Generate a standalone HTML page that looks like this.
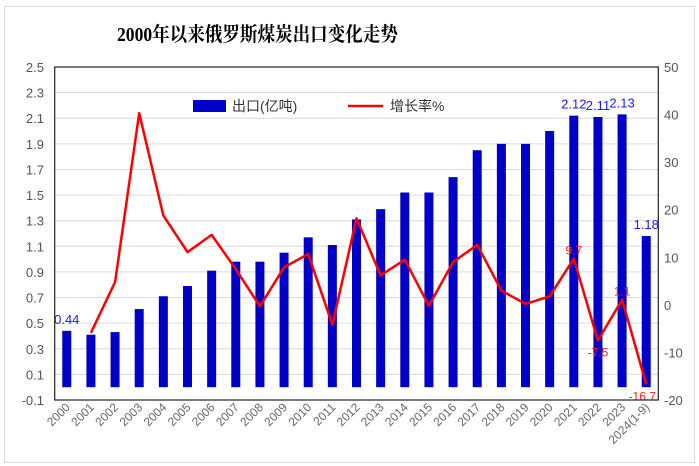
<!DOCTYPE html>
<html><head><meta charset="utf-8"><style>
body{margin:0;background:#fff;}
svg{display:block;font-family:"Liberation Sans","Noto Sans CJK SC",sans-serif;}
</style></head><body>
<svg id="c" width="699" height="466" viewBox="0 0 699 466">
<rect x="4.5" y="6.5" width="690" height="456" fill="#fff" stroke="#d9d9d9"/>
<text x="117" y="41" font-size="20" font-weight="bold" textLength="281" lengthAdjust="spacingAndGlyphs" font-family="'Liberation Serif','Noto Serif CJK SC',serif">2000年以来俄罗斯煤炭出口变化走势</text>
<g id="grid"></g><g id="bars"></g><g id="line"></g><g id="labels"></g>
<rect x="54.7" y="67" width="603.6" height="333" fill="none" stroke="#222" stroke-width="1.2"/>
<g>
<rect x="193" y="100" width="33" height="12" fill="#0000c8"/>
<text x="232" y="111" font-size="14" fill="#333">出口(亿吨)</text>
<line x1="348" y1="106" x2="383" y2="106" stroke="#f00" stroke-width="2.5"/>
<text x="390" y="111" font-size="14" fill="#333">增长率%</text>
</g>
</svg>
<script>
const categories=["2000","2001","2002","2003","2004","2005","2006","2007","2008","2009","2010","2011","2012","2013","2014","2015","2016","2017","2018","2019","2020","2021","2022","2023","2024(1-9)"];
const exportsVals=[0.44,0.41,0.43,0.61,0.71,0.79,0.91,0.98,0.98,1.05,1.17,1.11,1.31,1.39,1.52,1.52,1.64,1.85,1.90,1.90,2.00,2.12,2.11,2.13,1.18];
const growthVals=[null,-5.9,4.8,40.3,18.8,11.1,14.7,7.5,-0.3,7.9,10.7,-4.2,18.2,6.2,9.5,-0.2,9.0,12.6,3.0,0.2,1.8,9.7,-7.5,1.1,-16.7];
const leftTicks=[-0.1,0.1,0.3,0.5,0.7,0.9,1.1,1.3,1.5,1.7,1.9,2.1,2.3,2.5];
const rightTicks=[-20,-10,0,10,20,30,40,50];
const barLabelIdx=[0,21,22,23,24];
const lineLabelIdx=[21,22,23,24];
const NS="http://www.w3.org/2000/svg";
const X0=54.7,X1=658.3,Y0=67,Y1=400;
const step=(X1-X0)/categories.length;
const xc=i=>X0+step*(i+0.5);
const yL=v=>Y1-(v+0.1)/2.6*(Y1-Y0);
const yR=v=>Y1-(v+20)/70*(Y1-Y0);
function mk(tag,attrs,parent,txt){const e=document.createElementNS(NS,tag);for(const k in attrs)e.setAttribute(k,attrs[k]);if(txt!==undefined)e.textContent=txt;parent.appendChild(e);return e;}
const grid=document.getElementById('grid'),bars=document.getElementById('bars'),line=document.getElementById('line'),labels=document.getElementById('labels');
leftTicks.forEach(t=>{
  const y=yL(t);
  const g=mk('line',{x1:X0,x2:X1,y1:y,y2:y,stroke:'#d9d9d9','stroke-width':1},grid);
  
  
  const l=mk('text',{x:44,y:y+5,'text-anchor':'end','font-size':13,fill:'#555'},grid,t.toFixed(1));
  
  
});
rightTicks.forEach(t=>{
  const l=mk('text',{x:664,y:yR(t)+5,'font-size':13,fill:'#555'},grid,String(t));
  
  
});
categories.forEach((c,i)=>{
  const x=xc(i);
  const b=mk('rect',{x:x-4.5,y:yL(exportsVals[i]),width:9,height:yL(0)-yL(exportsVals[i]),fill:'#0000c8'},bars);
  
  
  const t=mk('text',{x:x+4,y:408,'text-anchor':'end','font-size':12,fill:'#666',transform:`rotate(-45 ${x+4} 408)`},labels,c);
  
  
});
let d='';
growthVals.forEach((v,i)=>{if(v===null)return;d+=(d?'L':'M')+xc(i).toFixed(1)+','+yR(v).toFixed(1);});
const p=mk('path',{d:d,fill:'none',stroke:'#f00','stroke-width':2.5,'stroke-linejoin':'round'},line);


barLabelIdx.forEach(i=>{
  const t=mk('text',{x:xc(i),y:yL(exportsVals[i])-7,'text-anchor':'middle','font-size':13,fill:'#1a1aff'},labels,exportsVals[i].toFixed(2));
  
  
});
lineLabelIdx.forEach(i=>{
  const v=growthVals[i];
  const above=(i===21||i===23);
  const t=mk('text',{x:xc(i)+(i===24?-4:0),y:above?yR(v)-4:yR(v)+16,'text-anchor':'middle','font-size':12,fill:'#ff2020'},labels,String(v));
  
  
});
</script>
</body></html>
